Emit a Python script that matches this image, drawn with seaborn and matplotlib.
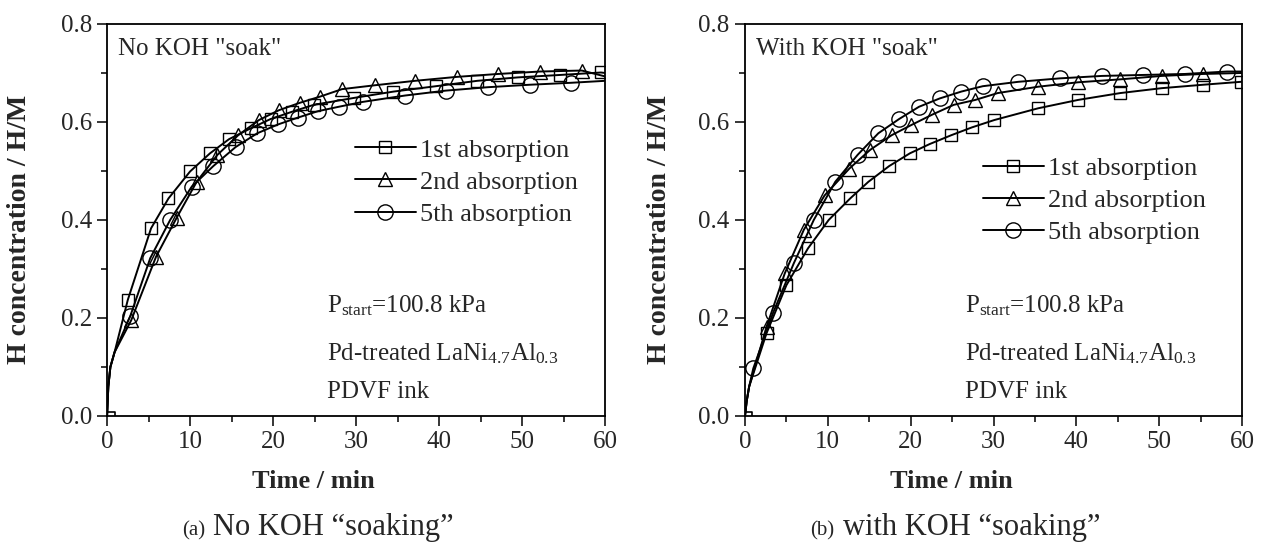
import matplotlib
matplotlib.use("Agg")
import matplotlib.pyplot as plt
from matplotlib.lines import Line2D
from matplotlib.ticker import MultipleLocator, FormatStrFormatter
import seaborn as sns
import pandas as pd

# ---------------- data: (a) no KOH soak ----------------
a_sq_t = [2.5, 5.3, 7.4, 10.0, 12.4, 14.7, 17.3, 19.7, 22.3, 24.9, 29.7, 34.5, 39.6, 44.6, 49.5, 54.6, 59.5]
a_sq_v = [0.237, 0.383, 0.444, 0.499, 0.536, 0.565, 0.587, 0.606, 0.621, 0.635, 0.649, 0.662, 0.673, 0.684, 0.691, 0.696, 0.701]
a_tr_t = [2.9, 5.9, 8.4, 10.8, 13.3, 15.8, 18.3, 20.7, 23.2, 25.7, 28.3, 32.3, 37.1, 42.1, 47.1, 52.2, 57.2]
a_tr_v = [0.195, 0.325, 0.405, 0.478, 0.533, 0.573, 0.604, 0.624, 0.639, 0.652, 0.667, 0.675, 0.684, 0.692, 0.698, 0.703, 0.705]
a_ci_t = [2.8, 5.2, 7.6, 10.2, 12.8, 15.5, 18.1, 20.6, 23.0, 25.4, 27.9, 30.8, 35.9, 40.8, 45.9, 50.9, 55.9]
a_ci_v = [0.204, 0.322, 0.400, 0.468, 0.510, 0.549, 0.577, 0.595, 0.609, 0.622, 0.631, 0.641, 0.654, 0.664, 0.671, 0.676, 0.680]
a_rise_t = [0.0, 0.15, 0.4, 0.9]
a_rise_v = [0.0, 0.06, 0.10, 0.13]
a_end_v = [0.700, 0.693, 0.684]

# ---------------- data: (b) with KOH soak ----------------
b_sq_t = [2.6, 5.0, 7.6, 10.1, 12.7, 14.9, 17.4, 19.9, 22.3, 24.9, 27.4, 30.1, 35.4, 40.2, 45.3, 50.3, 55.3, 59.9]
b_sq_v = [0.169, 0.267, 0.342, 0.400, 0.444, 0.478, 0.510, 0.536, 0.555, 0.573, 0.589, 0.604, 0.628, 0.645, 0.659, 0.669, 0.676, 0.682]
b_tr_t = [2.6, 4.8, 7.1, 9.6, 12.6, 15.1, 17.7, 20.1, 22.6, 25.2, 27.8, 30.5, 35.4, 40.2, 45.3, 50.3, 55.3]
b_tr_v = [0.182, 0.291, 0.380, 0.450, 0.505, 0.543, 0.573, 0.594, 0.615, 0.635, 0.645, 0.659, 0.672, 0.681, 0.687, 0.694, 0.698]
b_ci_t = [1.0, 3.4, 5.9, 8.3, 10.9, 13.6, 16.1, 18.6, 21.0, 23.5, 26.1, 28.7, 33.0, 38.0, 43.1, 48.1, 53.1, 58.2]
b_ci_v = [0.097, 0.211, 0.312, 0.400, 0.478, 0.533, 0.577, 0.606, 0.631, 0.648, 0.662, 0.673, 0.682, 0.689, 0.694, 0.696, 0.698, 0.703]
b_rise_t = [0.0, 0.2, 0.5]
b_rise_v = [0.0, 0.03, 0.06]
b_end_v = [0.683, 0.700, 0.703]

# short pressure-step trace at the origin
step_t = [0.0, 0.9, 0.9]
step_v = [0.009, 0.009, 0.0]

series_labels = ["1st absorption", "2nd absorption", "5th absorption"]
series_markers = ["s", "^", "o"]
marker_sizes = [9, 10.5, 11]

panel_notes = ['No KOH "soak"', 'With KOH "soak"']
caption_tags = ["(a)", "(b)"]
caption_texts = ["No KOH \u201csoaking\u201d", "with KOH \u201csoaking\u201d"]

sns.set_style("ticks")
plt.rcParams["font.family"] = ["Liberation Serif", "DejaVu Serif"]
plt.rcParams["mathtext.fontset"] = "custom"
plt.rcParams["mathtext.rm"] = "Liberation Serif"
plt.rcParams["mathtext.it"] = "Liberation Serif:italic"
plt.rcParams["mathtext.bf"] = "Liberation Serif:bold"

fig = plt.figure(figsize=(12.64, 5.45), dpi=100)
ax_a = fig.add_axes([0.0847, 0.2367, 0.3940, 0.7193])
ax_b = fig.add_axes([0.5894, 0.2367, 0.3932, 0.7193])

panels = [
    (ax_a, [(a_sq_t, a_sq_v), (a_tr_t, a_tr_v), (a_ci_t, a_ci_v)], a_rise_t, a_rise_v, a_end_v),
    (ax_b, [(b_sq_t, b_sq_v), (b_tr_t, b_tr_v), (b_ci_t, b_ci_v)], b_rise_t, b_rise_v, b_end_v),
]

legend_anchor = [(0.498, 0.597), (0.479, 0.550)]
note_x = [0.442, 0.443]
ylabel_x = [-0.151, -0.147]

for i, (ax, series, rise_t, rise_v, end_v) in enumerate(panels):
    for (t, v), mk, ms, ev in zip(series, series_markers, marker_sizes, end_v):
        line_df = pd.DataFrame({"t": rise_t + t + [60.0], "v": rise_v + v + [ev]})
        sns.lineplot(data=line_df, x="t", y="v", ax=ax, color="black", lw=1.4,
                     estimator=None, sort=True)
        pts = pd.DataFrame({"t": t, "v": v})
        sns.lineplot(data=pts, x="t", y="v", ax=ax, color="black", linestyle="",
                     marker=mk, markersize=ms, markerfacecolor="none",
                     markeredgecolor="black", markeredgewidth=1.0,
                     estimator=None, sort=False)
    step_df = pd.DataFrame({"t": step_t, "v": step_v})
    sns.lineplot(data=step_df, x="t", y="v", ax=ax, color="black", lw=1.2,
                 estimator=None, sort=False)

    ax.set_xlim(0, 60)
    ax.set_ylim(0, 0.8)
    ax.xaxis.set_major_locator(MultipleLocator(10))
    ax.xaxis.set_minor_locator(MultipleLocator(5))
    ax.yaxis.set_major_locator(MultipleLocator(0.2))
    ax.yaxis.set_minor_locator(MultipleLocator(0.1))
    ax.yaxis.set_major_formatter(FormatStrFormatter("%.1f"))
    ax.tick_params(which="major", direction="out", length=7, width=1.3,
                   labelsize=18, pad=4, top=False, right=False)
    ax.tick_params(which="minor", direction="out", length=4, width=1.3,
                   top=False, right=False)
    for sp in ax.spines.values():
        sp.set_visible(True)
        sp.set_linewidth(1.3)
        sp.set_color("black")

    ax.set_xlabel("Time / min", fontsize=19, fontweight="bold")
    ax.set_ylabel("H concentration / H/M", fontsize=20, fontweight="bold")
    ax.xaxis.set_label_coords(0.415, -0.138)
    ax.yaxis.set_label_coords(ylabel_x[i], 0.475)

    handles = [Line2D([], [], color="black", lw=1.4, marker=mk, markersize=ms,
                      markerfacecolor="none", markeredgecolor="black",
                      markeredgewidth=1.0)
               for mk, ms in zip(series_markers, marker_sizes)]
    ax.legend(handles, series_labels, loc="center left",
              bbox_to_anchor=legend_anchor[i], frameon=False, fontsize=19,
              handlelength=2.3, handletextpad=0.15, labelspacing=0.33,
              borderpad=0, borderaxespad=0)

    ax.text(0.022, 0.921, panel_notes[i], transform=ax.transAxes,
            fontsize=18, va="baseline", ha="left")
    ax.text(note_x[i], 0.264, r"P$\mathrm{_{start}}$=100.8 kPa",
            transform=ax.transAxes, fontsize=18, va="baseline", ha="left")
    ax.text(note_x[i], 0.143, r"Pd-treated LaNi$_{4.7}$Al$_{0.3}$",
            transform=ax.transAxes, fontsize=18, va="baseline", ha="left")
    ax.text(note_x[i], 0.046, "PDVF ink", transform=ax.transAxes,
            fontsize=18, va="baseline", ha="left")

# sub-figure captions
cap_y = 1 - 535 / 545
fig.text(182 / 1264, cap_y, caption_tags[0], fontsize=15, va="baseline", ha="left")
fig.text(213 / 1264, cap_y, caption_texts[0], fontsize=22, va="baseline", ha="left")
fig.text(810 / 1264, cap_y, caption_tags[1], fontsize=15, va="baseline", ha="left")
fig.text(843 / 1264, cap_y, caption_texts[1], fontsize=22, va="baseline", ha="left")

fig.savefig("out.png", dpi=100)
